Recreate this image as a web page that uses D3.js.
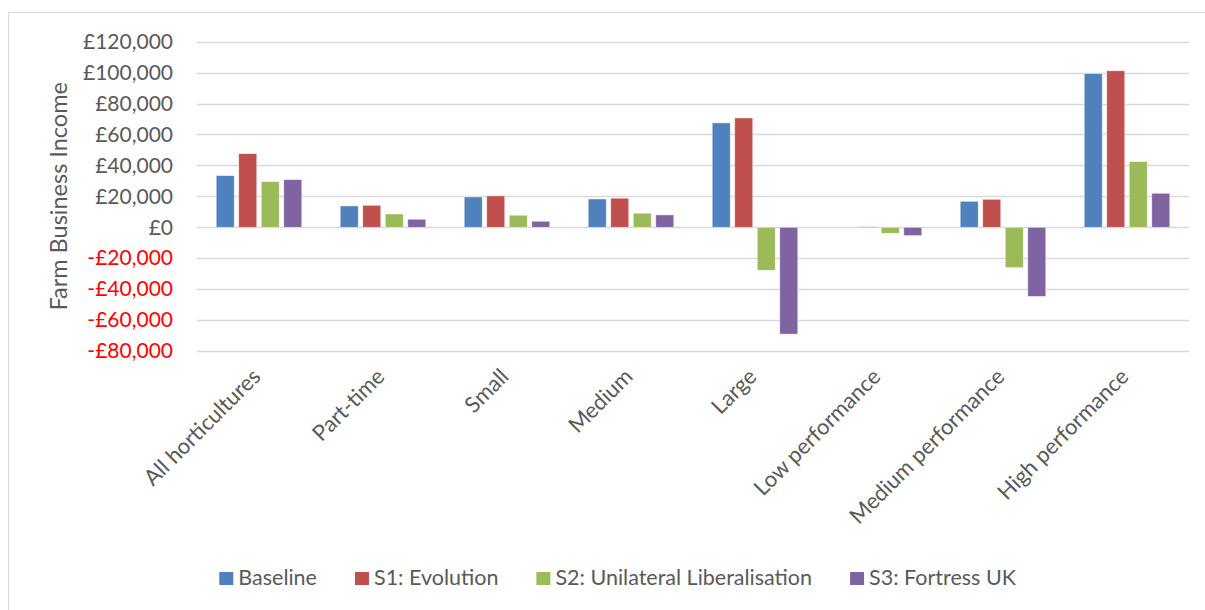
<!DOCTYPE html>
<html>
<head>
<meta charset="utf-8">
<script src="https://cdn.jsdelivr.net/npm/d3@7"></script>
<style>
  html, body { margin: 0; padding: 0; background: #fff; }
  svg { display: block; font-family: Lato, "Open Sans", sans-serif; }
</style>
</head>
<body>
<div id="chart"></div>
<script>
// chart values
var categories = ['All horticultures', 'Part-time', 'Small', 'Medium', 'Large',
  'Low performance', 'Medium performance', 'High performance'];
var seriesNames = ['Baseline', 'S1: Evolution', 'S2: Unilateral Liberalisation', 'S3: Fortress UK'];
var baseline = [33400, 13800, 19600, 18300, 67500, 0, 16800, 99400];
var evolution = [47600, 14200, 20300, 18800, 70700, 300, 18100, 101200];
var liberalisation = [29500, 8600, 7800, 9100, -27800, -3900, -26100, 42500];
var fortress = [30800, 5200, 3900, 8000, -69100, -5400, -44700, 22000];
var yTicks = [-80000, -60000, -40000, -20000, 0, 20000, 40000, 60000, 80000, 100000, 120000];
var colors = ['#4F81BD', '#C0504D', '#9BBB59', '#8064A2'];

var seriesValues = [baseline, evolution, liberalisation, fortress];

var width = 1205, height = 610;
var plot = { left: 197, right: 1189, top: 41.7, bottom: 351 };

var svg = d3.select('#chart').append('svg')
  .attr('width', width)
  .attr('height', height);

// outer chart border
svg.append('rect')
  .attr('x', 8.5).attr('y', 12.5)
  .attr('width', 1220).attr('height', 620)
  .attr('fill', 'none')
  .attr('stroke', '#D9D9D9')
  .attr('stroke-width', 1);

var y = d3.scaleLinear()
  .domain([-80000, 120000])
  .range([plot.bottom, plot.top]);

var x0 = d3.scaleBand()
  .domain(categories)
  .range([plot.left, plot.right])
  .paddingInner(0.31)
  .paddingOuter(0.155);

var x1 = d3.scaleBand()
  .domain(d3.range(seriesNames.length))
  .range([0, x0.bandwidth()])
  .paddingInner(0.2);

var fmt = d3.format(',');
function money(v) {
  return (v < 0 ? '-£' : '£') + fmt(Math.abs(v));
}

// gridlines
svg.append('g').attr('class', 'grid')
  .selectAll('line')
  .data(yTicks)
  .enter().append('line')
  .attr('x1', plot.left).attr('x2', plot.right)
  .attr('y1', function(d) { return Math.round(y(d)) + 0.5; })
  .attr('y2', function(d) { return Math.round(y(d)) + 0.5; })
  .attr('stroke', '#D9D9D9')
  .attr('stroke-width', 1.5);

// y axis
var yAxis = svg.append('g')
  .attr('transform', 'translate(' + (plot.left - 24) + ',0)')
  .call(d3.axisLeft(y).tickValues(yTicks).tickFormat(money).tickSize(0).tickPadding(0));
yAxis.select('.domain').remove();
yAxis.selectAll('text')
  .attr('font-size', 21)
  .attr('font-family', 'Lato, "Open Sans", sans-serif')
  .attr('fill', function(d) { return d < 0 ? '#FF0000' : '#595959'; });

svg.append('text')
  .attr('transform', 'translate(67,' + ((y(120000) + y(-80000)) / 2 + 0) + ') rotate(-90)')
  .attr('text-anchor', 'middle')
  .attr('font-size', 23.5)
  .attr('fill', '#595959')
  .text('Farm Business Income');

// bars
var groups = svg.append('g').attr('class', 'bars')
  .selectAll('g')
  .data(categories)
  .enter().append('g')
  .attr('transform', function(d) { return 'translate(' + x0(d) + ',0)'; });

groups.selectAll('rect')
  .data(function(d, i) {
    return seriesValues.map(function(s, j) { return { s: j, v: s[i] }; });
  })
  .enter().append('rect')
  .attr('x', function(d) { return x1(d.s); })
  .attr('width', x1.bandwidth())
  .attr('y', function(d) { return y(Math.max(0, d.v)); })
  .attr('height', function(d) { return Math.abs(y(d.v) - y(0)); })
  .attr('fill', function(d) { return colors[d.s]; })
  .attr('stroke', '#fff')
  .attr('stroke-opacity', 0.6)
  .attr('stroke-width', 0.75);

// category labels
svg.append('g').attr('class', 'xlabels')
  .selectAll('text')
  .data(categories)
  .enter().append('text')
  .attr('transform', function(d) {
    return 'translate(' + (x0(d) + x0.bandwidth() / 2 + 3) + ',' + (plot.bottom + 27) + ') rotate(-45)';
  })
  .attr('text-anchor', 'end')
  .attr('font-size', 22)
  .attr('fill', '#595959')
  .text(function(d) { return d; });

// legend
var legend = svg.append('g').attr('class', 'legend');
var items = legend.selectAll('g')
  .data(seriesNames)
  .enter().append('g');
items.append('rect')
  .attr('width', 14).attr('height', 13)
  .attr('y', -13)
  .attr('fill', function(d, i) { return colors[i]; });
items.append('text')
  .attr('x', 19)
  .attr('font-size', 21.5)
  .attr('fill', '#595959')
  .text(function(d) { return d; });

var gap = 38, pos = 0, offsets = [];
items.each(function() {
  offsets.push(pos);
  pos += this.getBBox().width + gap;
});
var total = pos - gap;
var startX = 618 - total / 2;
items.attr('transform', function(d, i) { return 'translate(' + (startX + offsets[i]) + ',585)'; });
</script>
</body>
</html>
